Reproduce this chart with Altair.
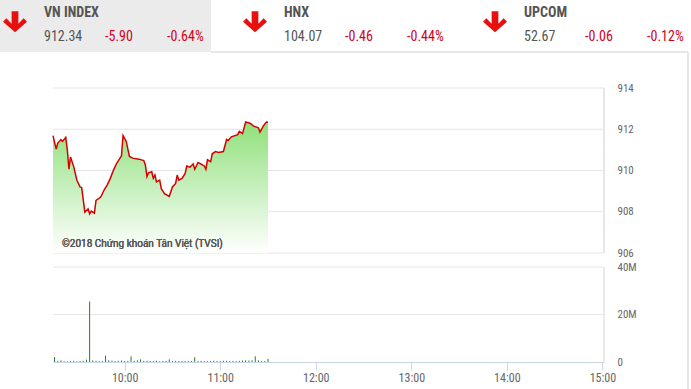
import altair as alt
import pandas as pd

# ---------------- data ----------------
names = ["VN INDEX", "HNX", "UPCOM"]
index_values = ["912.34", "104.07", "52.67"]
index_changes = ["-5.90", "-0.46", "-0.06"]
index_pcts = ["-0.64%", "-0.44%", "-0.12%"]

price_times = ["9:15", "9:17", "9:18", "9:20", "9:21", "9:23", "9:24", "9:25", "9:26", "9:28",
               "9:30", "9:32", "9:33", "9:35", "9:37", "9:38", "9:39", "9:41", "9:42", "9:45",
               "9:47", "9:49", "9:51", "9:53", "9:55", "9:58", "9:59", "10:01", "10:03", "10:05",
               "10:09", "10:12", "10:13", "10:14", "10:15", "10:17", "10:18", "10:19", "10:20", "10:22",
               "10:23", "10:25", "10:28", "10:30", "10:32", "10:33", "10:34", "10:36", "10:38", "10:39",
               "10:41", "10:43", "10:44", "10:46", "10:47", "10:50", "10:51", "10:52", "10:54", "10:55",
               "10:57", "10:59", "11:02", "11:04", "11:05", "11:07", "11:11", "11:12", "11:14", "11:16",
               "11:19", "11:21", "11:24", "11:25", "11:27", "11:29", "11:30"]
price_values = [911.69, 911.04, 911.33, 911.50, 911.41, 911.61, 911.00, 910.06, 910.65, 910.19,
                909.53, 909.20, 909.17, 907.98, 908.14, 907.90, 908.03, 907.93, 908.55, 908.71,
                909.04, 909.29, 909.62, 910.02, 910.35, 910.71, 911.69, 911.41, 910.68, 910.60,
                910.55, 910.48, 910.27, 909.70, 909.89, 909.94, 909.62, 909.78, 909.45, 909.53,
                909.12, 908.88, 908.74, 909.20, 909.37, 909.78, 909.53, 909.62, 909.86, 910.22,
                910.16, 910.32, 910.06, 910.38, 910.35, 910.22, 910.06, 910.52, 910.43, 910.81,
                910.92, 910.87, 910.92, 911.50, 911.45, 911.63, 911.74, 911.90, 911.79, 912.35,
                912.28, 912.15, 912.07, 911.86, 912.15, 912.35, 912.34]

volume_times = ["9:16", "9:18", "9:20", "9:22", "9:24", "9:26", "9:28", "9:30", "9:32", "9:34",
                "9:36", "9:38", "9:40", "9:42", "9:44", "9:46", "9:48", "9:50", "9:52", "9:54",
                "9:56", "9:58", "10:00", "10:02", "10:04", "10:06", "10:08", "10:10", "10:12", "10:14",
                "10:16", "10:18", "10:20", "10:22", "10:24", "10:26", "10:28", "10:30", "10:32", "10:34",
                "10:36", "10:38", "10:40", "10:42", "10:44", "10:46", "10:48", "10:50", "10:52", "10:54",
                "10:56", "10:58", "11:00", "11:02", "11:04", "11:06", "11:08", "11:10", "11:12", "11:14",
                "11:16", "11:18", "11:20", "11:22", "11:24", "11:26", "11:28", "11:30"]
volume_millions = [2.1, 0.5, 0.7, 0.3, 0.3, 0.4, 0.5, 0.3, 0.4, 0.5,
                   1.0, 25.5, 0.7, 0.5, 0.4, 0.4, 2.7, 0.7, 0.6, 0.4,
                   0.5, 0.6, 0.4, 0.5, 2.4, 0.5, 0.7, 1.1, 0.5, 0.5,
                   0.4, 0.4, 0.5, 0.3, 0.4, 0.4, 1.1, 0.4, 0.5, 0.4,
                   0.4, 0.4, 0.4, 0.4, 2.0, 0.4, 0.5, 0.4, 0.3, 0.4,
                   0.5, 0.4, 0.4, 0.5, 0.5, 0.4, 0.4, 0.4, 0.5, 0.6,
                   0.7, 0.6, 0.7, 2.4, 0.7, 0.4, 0.4, 1.3]

price_ticks = [906, 908, 910, 912, 914]
volume_ticks = [0, 20, 40]
time_ticks = ["10:00", "11:00", "12:00", "13:00", "14:00", "15:00"]
session = ["9:15", "15:01"]
credit = "©2018 Chứng khoán Tân Việt (TVSI)"


def to_min(t):
    h, m = t.split(":")
    return int(h) * 60 + int(m)


price_df = pd.DataFrame({"m": [to_min(t) for t in price_times], "price": price_values})
vol_df = pd.DataFrame({"m": [to_min(t) for t in volume_times], "vol": volume_millions})
pgrid_df = pd.DataFrame({"v": price_ticks})
vgrid_df = pd.DataFrame({"v": volume_ticks})
head_df = pd.DataFrame({"name": names, "value": index_values,
                        "chg": index_changes, "pct": index_pcts})

FONT = "'Liberation Sans Narrow', 'Roboto Condensed', Roboto, sans-serif"
GRID = "#e6e6e6"
LABEL = "#666666"
RED_TXT = "#d0021b"

t0, t1 = to_min(session[0]), to_min(session[1])
xs = alt.Scale(domain=[t0, t1], range=[53, 604])
ys_p = alt.Scale(domain=[price_ticks[0], price_ticks[-1]], range=[253, 88], zero=False, nice=False)
ys_v = alt.Scale(domain=[volume_ticks[0], volume_ticks[-1]], range=[362, 267], nice=False)
xh = alt.Scale(type="point", domain=names, range=[44, 524], padding=0)

# ---------------- header ----------------
gray_box = alt.Chart(head_df).mark_rect(color="#ebebeb").encode(
    x=alt.value(0), x2=alt.value(211), y=alt.value(0), y2=alt.value(52))

name_txt = alt.Chart(head_df).mark_text(align="left", baseline="middle", font=FONT,
                                        fontSize=14, fontWeight="bold", color="#555555").encode(
    x=alt.X("name:N", scale=xh, axis=None), y=alt.value(13), text="name:N")
val_txt = alt.Chart(head_df).mark_text(align="left", baseline="middle", font=FONT,
                                       fontSize=14, color="#555555").encode(
    x=alt.X("name:N", scale=xh, axis=None), y=alt.value(37), text="value:N")
chg_txt = alt.Chart(head_df).mark_text(align="left", baseline="middle", font=FONT, dx=61,
                                       fontSize=14, color=RED_TXT).encode(
    x=alt.X("name:N", scale=xh, axis=None), y=alt.value(37), text="chg:N")
pct_txt = alt.Chart(head_df).mark_text(align="left", baseline="middle", font=FONT, dx=123,
                                       fontSize=14, color=RED_TXT).encode(
    x=alt.X("name:N", scale=xh, axis=None), y=alt.value(37), text="pct:N")

arrow_path = ("M -0.28 -0.9 L 0.28 -0.9 L 0.28 0.15 L 0.72 -0.32 L 1 -0.02 L 0 0.85 "
              "L -1 -0.02 L -0.72 -0.32 L -0.28 0.15 Z")
arrows = alt.Chart(head_df).mark_point(shape=arrow_path, filled=True, color="#e8100f",
                                       size=576, opacity=1, xOffset=-29).encode(
    x=alt.X("name:N", scale=xh, axis=None), y=alt.value(22))

border_h = alt.Chart(head_df).mark_rule(color="#e3e3e3").encode(
    x=alt.value(211), x2=alt.value(688), y=alt.value(52))
border_v = alt.Chart(head_df).mark_rule(color="#e3e3e3").encode(
    x=alt.value(688), y=alt.value(52), y2=alt.value(389))

# ---------------- price panel ----------------
pgrid = alt.Chart(pgrid_df).mark_rule(color=GRID).encode(
    x=alt.XDatum(t0, type="quantitative", scale=xs, axis=None),
    x2=alt.X2Datum(t1),
    y=alt.Y("v:Q", scale=ys_p,
            axis=alt.Axis(orient="right", values=price_ticks, offset=-74, labelPadding=0,
                          domain=False, ticks=False, grid=False, title=None,
                          labelFont=FONT, labelFontSize=11, labelColor=LABEL)))
pborder = alt.Chart(pgrid_df).mark_rule(color=GRID).encode(
    x=alt.XDatum(t1, type="quantitative", scale=xs, axis=None),
    y=alt.YDatum(price_ticks[0], type="quantitative", scale=ys_p, axis=None),
    y2=alt.Y2Datum(price_ticks[-1]))

area = alt.Chart(price_df).mark_area(
    color=alt.Gradient(gradient="linear", x1=1, x2=1, y1=0, y2=1,
                       stops=[alt.GradientStop(color="#8fe07b", offset=0),
                              alt.GradientStop(color="#ffffff", offset=1)])).encode(
    x=alt.X("m:Q", scale=xs, axis=None),
    y=alt.Y("price:Q", scale=ys_p, axis=None),
    y2=alt.Y2Datum(price_ticks[0]))
line = alt.Chart(price_df).mark_line(color="#d40000", strokeWidth=1.5).encode(
    x=alt.X("m:Q", scale=xs, axis=None),
    y=alt.Y("price:Q", scale=ys_p, axis=None))

credit_txt = alt.Chart(head_df).mark_text(text=credit, align="left", baseline="middle",
                                          font="Roboto", fontSize=10, fontWeight="normal",
                                          color="#595959").encode(
    x=alt.value(62), y=alt.value(244))

# ---------------- volume panel ----------------
vgrid = alt.Chart(vgrid_df).transform_filter("datum.v > 0").mark_rule(color=GRID).encode(
    x=alt.XDatum(t0, type="quantitative", scale=xs, axis=None),
    x2=alt.X2Datum(t1),
    y=alt.Y("v:Q", scale=ys_v,
            axis=alt.Axis(orient="right", values=volume_ticks, offset=-74, labelPadding=0,
                          domain=False, ticks=False, grid=False, title=None,
                          labelExpr="datum.value == 0 ? '0' : datum.value + 'M'",
                          labelFont=FONT, labelFontSize=11, labelColor=LABEL)))
vborder = alt.Chart(vgrid_df).mark_rule(color=GRID).encode(
    x=alt.XDatum(t1, type="quantitative", scale=xs, axis=None),
    y=alt.YDatum(volume_ticks[0], type="quantitative", scale=ys_v, axis=None),
    y2=alt.Y2Datum(volume_ticks[-1]))

bars = alt.Chart(vol_df).mark_rule(color="#2a7a2a", strokeWidth=1).encode(
    x=alt.X("m:Q", scale=xs,
            axis=alt.Axis(values=[to_min(t) for t in time_ticks], offset=-27,
                          labelExpr="floor(datum.value / 60) + ':00'",
                          tickSize=8, tickColor="#ccd6eb", domainColor="#ccd6eb",
                          labelPadding=2, grid=False, title=None,
                          labelFont=FONT, labelFontSize=12, labelColor=LABEL)),
    y=alt.Y("vol:Q", scale=ys_v, axis=None),
    y2=alt.Y2Datum(0))

chart = alt.layer(
    gray_box, border_h, border_v, arrows, name_txt, val_txt, chg_txt, pct_txt,
    pgrid, pborder, area, line, credit_txt,
    vgrid, vborder, bars,
).resolve_scale(x="independent", y="independent").properties(
    width=691, height=389, padding=0, background="white",
    autosize=alt.AutoSizeParams(type="none"),
).configure_view(strokeWidth=0)

chart.save("out.html", embed_options={"renderer": "svg", "actions": False})
